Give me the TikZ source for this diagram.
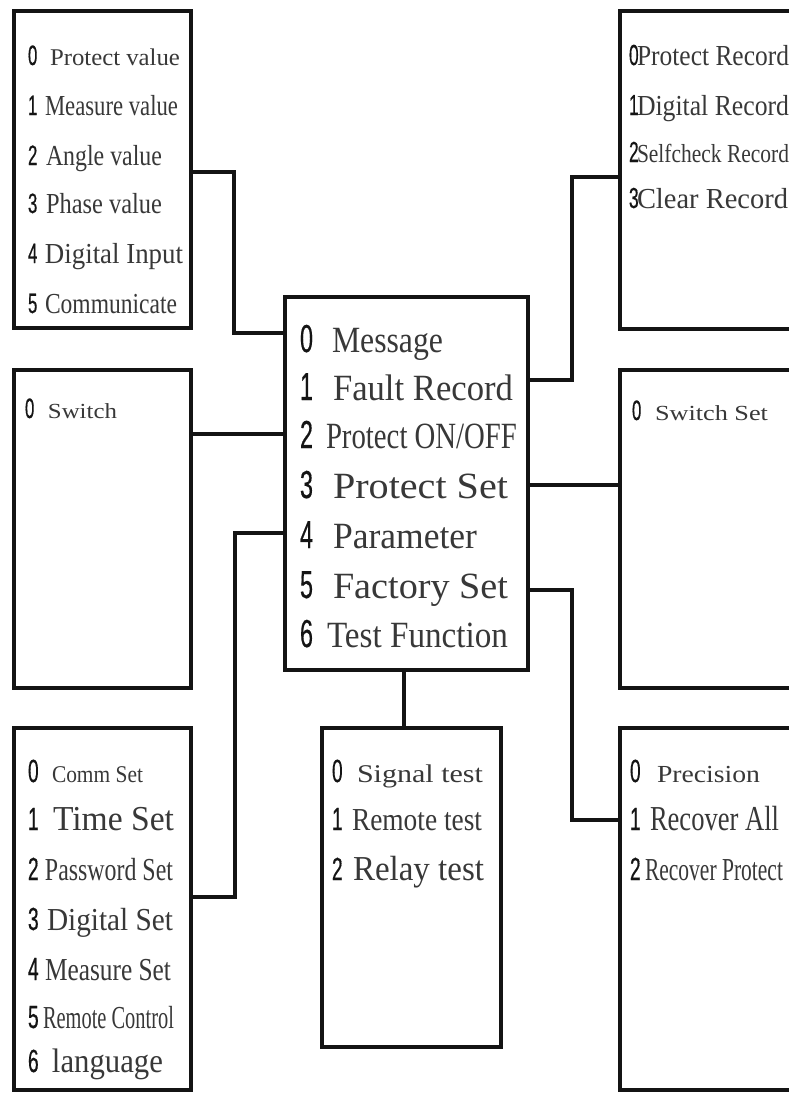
\documentclass[tikz,border=0pt]{standalone}
\usepackage{fontspec}
\setmainfont{Liberation Serif}
\newfontfamily\digfont[FakeBold=0.6]{Liberation Sans}
\newfontfamily\txtfont{Liberation Serif}
\definecolor{ink}{HTML}{141414}
\definecolor{txt}{HTML}{383838}
\tikzset{
  boxe/.style={draw=ink, line width=4.5pt, rectangle, inner sep=0pt, outer sep=0pt},
  conn/.style={draw=ink, line width=4.5pt, line join=miter},
  rowtxt/.style={anchor=base west, inner sep=0pt, outer sep=0pt},
}
% #1 name, #2 digit x, #3 baseline y, #4 digit size, #5 digit, #6 text x0, #7 text x1, #8 text size, #9 text
\newcommand\mrow[9]{%
  \node[rowtxt] (#1) at (#2,#3) {\makebox[\dimexpr #6pt-#2pt\relax][l]{\color{ink}\scalebox{0.6}[1]{\digfont\fontsize{#4}{#4}\selectfont #5}}\resizebox{\dimexpr #7pt-#6pt\relax}{\height}{\color{txt}\txtfont\fontsize{#8}{#8}\selectfont #9}};}
\begin{document}
\begin{tikzpicture}[x=1pt,y=-1pt]
\useasboundingbox (0,0) rectangle (789,1093);
\fill[white] (0,0) rectangle (789,1093);

% boxes
\node[boxe, minimum width=177pt, minimum height=317pt] (LT) at (102.5,169.5) {};
\node[boxe, minimum width=190pt, minimum height=318pt] (RT) at (715,170) {};
\node[boxe, minimum width=243pt, minimum height=373pt] (M)  at (406.5,483.5) {};
\node[boxe, minimum width=177pt, minimum height=318pt] (LM) at (102.5,529) {};
\node[boxe, minimum width=190pt, minimum height=318pt] (RM) at (715,529) {};
\node[boxe, minimum width=177pt, minimum height=362pt] (LB) at (102.5,909) {};
\node[boxe, minimum width=179pt, minimum height=319pt] (MB) at (411.5,887.5) {};
\node[boxe, minimum width=190pt, minimum height=362pt] (RB) at (715,909) {};

% connectors
\coordinate (a1) at (234,172);
\coordinate (a2) at (234,333);
\draw[conn] (LT.east |- a1) -- (a1) -- (a2) -- (M.west |- a2);
\coordinate (b1) at (0,434);
\draw[conn] (LM.east |- b1) -- (M.west |- b1);
\coordinate (c1) at (235,897);
\coordinate (c2) at (235,533);
\draw[conn] (LB.east |- c1) -- (c1) -- (c2) -- (M.west |- c2);
\coordinate (d1) at (572,380);
\coordinate (d2) at (572,177);
\draw[conn] (M.east |- d1) -- (d1) -- (d2) -- (RT.west |- d2);
\coordinate (e1) at (0,485);
\draw[conn] (M.east |- e1) -- (RM.west |- e1);
\coordinate (f1) at (572,590);
\coordinate (f2) at (572,820);
\draw[conn] (M.east |- f1) -- (f1) -- (f2) -- (RB.west |- f2);
\coordinate (g1) at (404,0);
\draw[conn] (M.south -| g1) -- (MB.north -| g1);

% left top
\mrow{lt0}{28}{65}{28}{0}{50}{180}{24}{Protect value}
\mrow{lt1}{28}{115}{28}{1}{45}{178}{29}{Measure value}
\mrow{lt2}{28}{165}{28}{2}{46}{162}{29}{Angle value}
\mrow{lt3}{28}{213}{28}{3}{46}{162}{29}{Phase value}
\mrow{lt4}{28}{263}{28}{4}{45}{183}{29}{Digital Input}
\mrow{lt5}{28}{313}{28}{5}{45}{177}{29}{Communicate}

% main
\mrow{m0}{300}{352}{39}{0}{332}{443}{37}{Message}
\mrow{m1}{300}{400}{39}{1}{333}{513}{37}{Fault Record}
\mrow{m2}{300}{448}{39}{2}{326}{517}{37}{Protect ON/OFF}
\mrow{m3}{300}{498}{39}{3}{333}{508}{37}{Protect Set}
\mrow{m4}{300}{548}{39}{4}{333}{477}{37}{Parameter}
\mrow{m5}{300}{598}{39}{5}{333}{508}{37}{Factory Set}
\mrow{m6}{300}{647}{39}{6}{327}{508}{37}{Test Function}

% right top
\mrow{rt0}{629}{65}{29}{0}{637}{789}{29}{Protect Record}
\mrow{rt1}{629}{115}{29}{1}{637}{789}{29}{Digital Record}
\mrow{rt2}{629}{162}{29}{2}{637}{789}{26}{Selfcheck Record}
\mrow{rt3}{629}{208}{29}{3}{637}{788}{29}{Clear Record}

% middle
\mrow{lm0}{25}{418}{28}{0}{48}{117}{21.5}{Switch}
\mrow{rm0}{632}{420}{28}{0}{655}{768}{21.5}{Switch Set}

% left bottom
\mrow{lb0}{28}{782}{32}{0}{52}{143}{24}{Comm Set}
\mrow{lb1}{28}{830}{32}{1}{53}{174}{35}{Time Set}
\mrow{lb2}{28}{880}{32}{2}{45}{173}{32}{Password Set}
\mrow{lb3}{28}{930}{32}{3}{47}{173}{32}{Digital Set}
\mrow{lb4}{28}{980}{32}{4}{45}{171}{32}{Measure Set}
\mrow{lb5}{28}{1028}{32}{5}{43}{174}{32}{Remote Control}
\mrow{lb6}{28}{1072}{32}{6}{52}{163}{34}{language}

% middle bottom
\mrow{mb0}{332}{782}{32}{0}{357}{483}{25.5}{Signal test}
\mrow{mb1}{332}{830}{32}{1}{352}{482}{32}{Remote test}
\mrow{mb2}{332}{880}{32}{2}{353}{484}{35}{Relay test}

% right bottom
\mrow{rb0}{630}{782}{32}{0}{657}{760}{24.5}{Precision}
\mrow{rb1}{630}{830}{32}{1}{650}{779}{35}{Recover All}
\mrow{rb2}{630}{880}{32}{2}{645}{783}{32}{Recover Protect}
\end{tikzpicture}
\end{document}
